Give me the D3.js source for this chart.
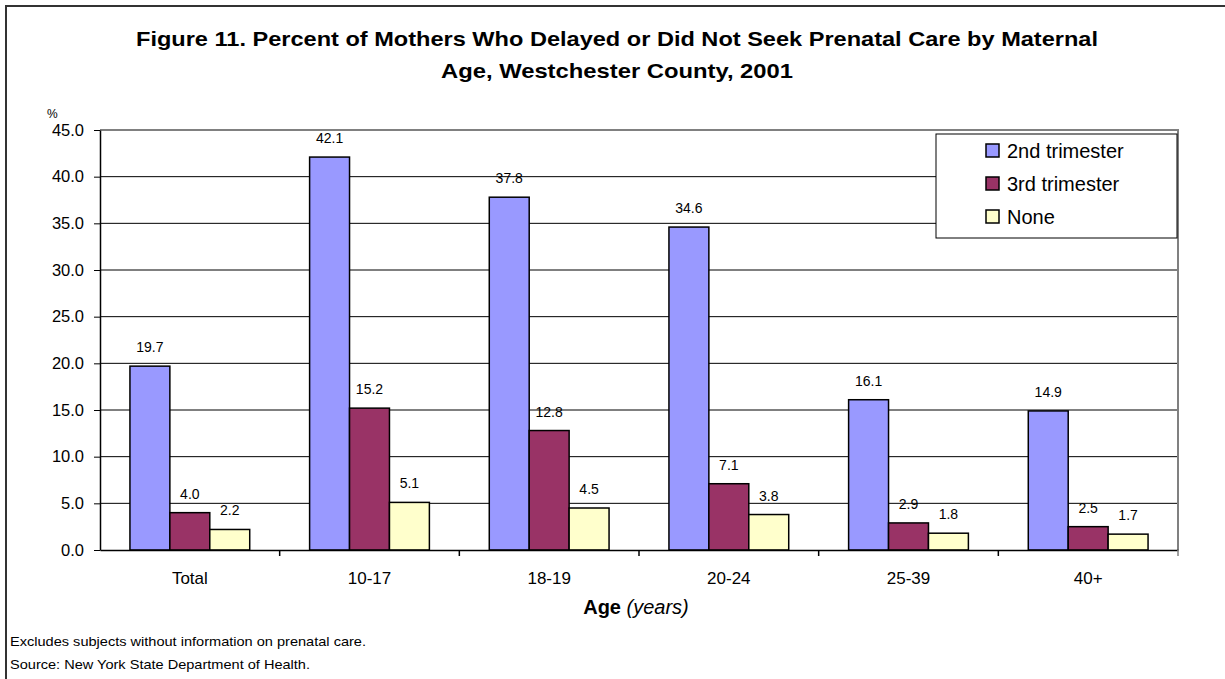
<!DOCTYPE html>
<html>
<head>
<meta charset="utf-8">
<script src="https://cdn.jsdelivr.net/npm/d3@7"></script>
<style>
  body { margin: 0; background: #fff; }
  svg text { font-family: "Liberation Sans", Arial, sans-serif; fill: #000; }
</style>
</head>
<body>
<div id="container"></div>
<script>
// chart data
const ageGroups = ["Total", "10-17", "18-19", "20-24", "25-39", "40+"];
const seriesNames = ["2nd trimester", "3rd trimester", "None"];
const secondTrimester = [19.7, 42.1, 37.8, 34.6, 16.1, 14.9];
const thirdTrimester = [4.0, 15.2, 12.8, 7.1, 2.9, 2.5];
const noCare = [2.2, 5.1, 4.5, 3.8, 1.8, 1.7];
const yTicks = [0, 5, 10, 15, 20, 25, 30, 35, 40, 45];

const colors = ["#9999FF", "#993366", "#FFFFCC"];
const allSeries = [secondTrimester, thirdTrimester, noCare];

const width = 1225;
const height = 679;
const plot = { left: 100, right: 1178, top: 130, bottom: 550 };

const svg = d3.select("#container")
    .append("svg")
    .attr("width", width)
    .attr("height", height);

// outer frame
svg.append("rect")
    .attr("x", 6).attr("y", 6)
    .attr("width", width + 10).attr("height", height + 10)
    .attr("fill", "none")
    .attr("stroke", "#333")
    .attr("stroke-width", 2);

// title
svg.append("text")
    .attr("x", 617).attr("y", 46)
    .attr("text-anchor", "middle")
    .attr("font-weight", "bold")
    .attr("font-size", 21)
    .attr("textLength", 962)
    .attr("lengthAdjust", "spacingAndGlyphs")
    .text("Figure 11. Percent of Mothers Who Delayed or Did Not Seek Prenatal Care by Maternal");
svg.append("text")
    .attr("x", 617).attr("y", 78)
    .attr("text-anchor", "middle")
    .attr("font-weight", "bold")
    .attr("font-size", 21)
    .attr("textLength", 352)
    .attr("lengthAdjust", "spacingAndGlyphs")
    .text("Age, Westchester County, 2001");

const x0 = d3.scaleBand()
    .domain(ageGroups)
    .range([plot.left, plot.right]);

const x1 = d3.scaleBand()
    .domain(seriesNames)
    .range([0, x0.bandwidth()])
    .paddingOuter(0.75)
    .paddingInner(0);

const y = d3.scaleLinear()
    .domain([0, 45])
    .range([plot.bottom, plot.top]);

// gridlines
svg.append("g")
    .selectAll("line")
    .data(yTicks.filter(d => d > 0 && d < 45))
    .enter().append("line")
    .attr("x1", plot.left).attr("x2", plot.right)
    .attr("y1", d => y(d)).attr("y2", d => y(d))
    .attr("stroke", "#000")
    .attr("stroke-width", 1);

// plot area top/right border
svg.append("path")
    .attr("d", `M${plot.left},${plot.top}H${plot.right}V${plot.bottom}`)
    .attr("fill", "none")
    .attr("stroke", "#808080")
    .attr("stroke-width", 2);

// bars
const groups = svg.append("g")
    .selectAll("g")
    .data(ageGroups)
    .enter().append("g")
    .attr("transform", d => `translate(${x0(d)},0)`);

groups.selectAll("rect")
    .data((d, i) => seriesNames.map((s, j) => ({ s: s, v: allSeries[j][i], c: colors[j] })))
    .enter().append("rect")
    .attr("x", d => x1(d.s))
    .attr("y", d => y(d.v))
    .attr("width", x1.bandwidth())
    .attr("height", d => y(0) - y(d.v))
    .attr("fill", d => d.c)
    .attr("stroke", "#000")
    .attr("stroke-width", 1.5);

groups.selectAll("text")
    .data((d, i) => seriesNames.map((s, j) => ({ s: s, v: allSeries[j][i] })))
    .enter().append("text")
    .attr("x", d => x1(d.s) + x1.bandwidth() / 2)
    .attr("y", d => y(d.v) - 14)
    .attr("text-anchor", "middle")
    .attr("font-size", 14)
    .text(d => d.v.toFixed(1));

// y axis
const yAxis = svg.append("g")
    .attr("transform", `translate(${plot.left},0)`)
    .call(d3.axisLeft(y).tickValues(yTicks).tickFormat(d3.format(".1f")).tickSize(6).tickSizeOuter(0));
yAxis.select(".domain").attr("stroke", "#000").attr("stroke-width", 1.5);
yAxis.selectAll(".tick line").attr("stroke", "#000");
yAxis.selectAll(".tick text")
    .attr("font-size", 16.5)
    .attr("font-family", "Liberation Sans, Arial, sans-serif")
    .attr("x", -16);

svg.append("text")
    .attr("x", 47).attr("y", 118)
    .attr("font-size", 12)
    .text("%");

// x axis
const xAxis = svg.append("g")
    .attr("transform", `translate(0,${plot.bottom})`)
    .call(d3.axisBottom(x0).tickSize(0).tickSizeOuter(0));
xAxis.select(".domain").attr("stroke", "#000").attr("stroke-width", 1.5);
xAxis.selectAll(".tick text")
    .attr("font-size", 17)
    .attr("font-family", "Liberation Sans, Arial, sans-serif")
    .attr("dy", 0)
    .attr("y", 34);

// separator ticks between categories
svg.append("g")
    .selectAll("line")
    .data(ageGroups)
    .enter().append("line")
    .attr("x1", d => x0(d) + x0.bandwidth()).attr("x2", d => x0(d) + x0.bandwidth())
    .attr("y1", plot.bottom).attr("y2", plot.bottom + 6)
    .attr("stroke", d => d === "40+" ? "#808080" : "#000")
    .attr("stroke-width", 1.5);

const xTitle = svg.append("text")
    .attr("x", 636).attr("y", 614)
    .attr("text-anchor", "middle")
    .attr("font-size", 20);
xTitle.append("tspan").attr("font-weight", "bold").text("Age ");
xTitle.append("tspan").attr("font-style", "italic").text("(years)");

// legend
const legend = svg.append("g").attr("transform", "translate(936,134)");
legend.append("rect")
    .attr("width", 241).attr("height", 104)
    .attr("fill", "#fff")
    .attr("stroke", "#000")
    .attr("stroke-width", 1);
seriesNames.forEach((s, i) => {
    const row = legend.append("g").attr("transform", `translate(50,${16 + i * 33})`);
    row.append("rect")
        .attr("x", 0).attr("y", -6)
        .attr("width", 13).attr("height", 13)
        .attr("fill", colors[i])
        .attr("stroke", "#000")
        .attr("stroke-width", 1.5);
    row.append("text")
        .attr("x", 21).attr("y", 8)
        .attr("font-size", 20)
        .text(s);
});

// footnotes
svg.append("text")
    .attr("x", 10).attr("y", 646)
    .attr("font-size", 13)
    .attr("textLength", 356)
    .attr("lengthAdjust", "spacingAndGlyphs")
    .text("Excludes subjects without information on prenatal care.");
svg.append("text")
    .attr("x", 10).attr("y", 669)
    .attr("font-size", 13)
    .attr("textLength", 300)
    .attr("lengthAdjust", "spacingAndGlyphs")
    .text("Source: New York State Department of Health.");
</script>
</body>
</html>
